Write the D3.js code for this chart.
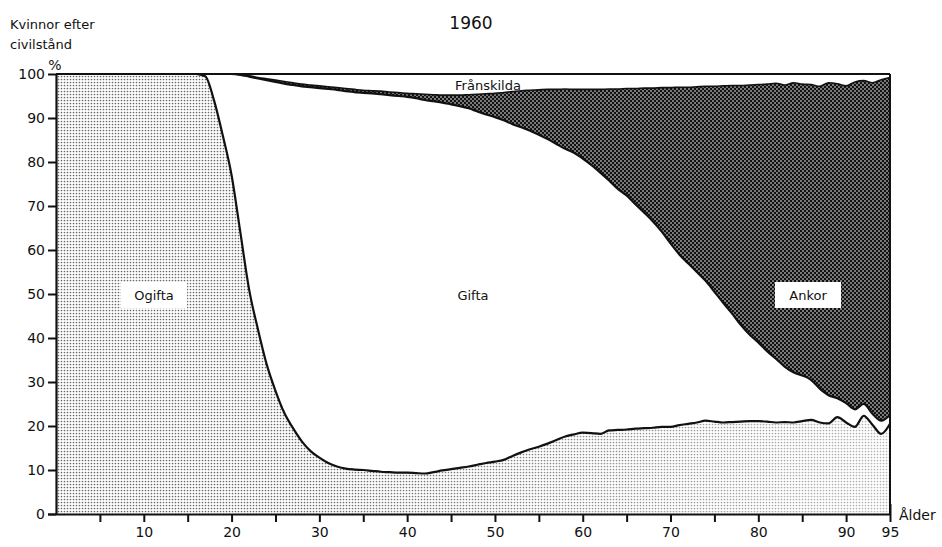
<!DOCTYPE html>
<html>
<head>
<meta charset="utf-8">
<script src="https://cdn.jsdelivr.net/npm/d3@7"></script>
<style>
  body { margin: 0; background: #fff; }
  svg text { font-family: "DejaVu Sans", sans-serif; fill: #111; }
</style>
</head>
<body>
<svg id="chart" width="942" height="547"></svg>
<script>
// ages 0..95, shares of women by civil status (% , cumulative from the bottom)
const ages = [
  0,1,2,3,4,5,6,7,8,9,10,11,12,13,14,15,16,17,18,19,
  20,21,22,23,24,25,26,27,28,29,30,31,32,33,34,35,36,37,38,39,
  40,41,42,43,44,45,46,47,48,49,50,51,52,53,54,55,56,57,58,59,
  60,61,62,63,64,65,66,67,68,69,70,71,72,73,74,75,76,77,78,79,
  80,81,82,83,84,85,86,87,88,89,90,91,92,93,94,95
];
// Ogifta (unmarried)
const ogifta = [
  100,100,100,100,100,100,100,100,100,100,
  100,100,100,100,100,100,100,99.5,94,86,
  77,64,51,42,34,28,23,19.5,16.5,14.3,
  12.8,11.6,10.8,10.3,10.1,10,9.8,9.6,9.5,9.4,
  9.4,9.3,9.2,9.5,9.9,10.2,10.5,10.8,11.2,11.6,
  11.9,12.3,13.2,14,14.7,15.3,16,16.8,17.6,18.1,
  18.5,18.4,18.2,19,19.1,19.2,19.4,19.5,19.6,19.8,
  19.8,20.2,20.5,20.8,21.2,21,20.8,20.9,21,21.1,
  21.1,21,20.8,20.9,20.8,21.1,21.4,20.8,20.6,22,
  20.8,19.8,22.3,20.3,18.2,20.5
];
// Ogifta + Gifta
const giftaCum = [
  100,100,100,100,100,100,100,100,100,100,
  100,100,100,100,100,100,100,100,100,100,
  100,99.8,99.4,99,98.6,98.2,97.8,97.5,97.2,97,
  96.8,96.6,96.4,96.1,95.9,95.7,95.6,95.4,95.2,95,
  94.8,94.5,94.1,93.8,93.5,93.1,92.7,92.2,91.5,90.8,
  90.2,89.5,88.6,87.9,87.1,86.2,85.2,84.1,83,82.1,
  80.8,79.3,77.6,75.8,73.9,72.4,70.4,68.5,66.5,64.2,
  61.5,59,57,55,53,50.5,48,45.6,43,40.8,
  39,37,35.3,33.5,32.2,31.5,30.5,28.5,27,26.3,
  25.2,23.8,25,22.8,21.2,22.5
];
// Ogifta + Gifta + Änkor (rest up to 100 = Frånskilda)
const ankorCum = [
  100,100,100,100,100,100,100,100,100,100,
  100,100,100,100,100,100,100,100,100,100,
  100,99.9,99.6,99.2,98.9,98.6,98.3,98,97.7,97.5,
  97.3,97.1,96.9,96.7,96.5,96.3,96.2,96.1,95.9,95.8,
  95.6,95.5,95.4,95.3,95.2,95.2,95.2,95.3,95.4,95.5,
  95.6,95.8,96,96.2,96.3,96.4,96.5,96.5,96.6,96.5,
  96.5,96.5,96.5,96.6,96.6,96.7,96.7,96.8,96.8,96.9,
  96.9,97,97,97.1,97.2,97.2,97.3,97.4,97.4,97.5,
  97.6,97.7,97.9,97.5,98,97.7,97.6,97.2,98,97.8,
  97.3,98.2,98.5,98,98.7,99.2
];
const xTicks = [5,10,15,20,25,30,35,40,45,50,55,60,65,70,75,80,85,90,95];
const yTicks = [0,10,20,30,40,50,60,70,80,90,100];

const svg = d3.select("#chart");
const x = d3.scaleLinear().domain([0, 95]).range([56, 890]);
const y = d3.scaleLinear().domain([0, 100]).range([514, 74]);

const rows = ages.map((a, i) => ({ age: a, o: ogifta[i], g: giftaCum[i], a2: ankorCum[i] }));

// patterns
const defs = svg.append("defs");
const dots = defs.append("pattern").attr("id", "dots")
    .attr("width", 3).attr("height", 3).attr("patternUnits", "userSpaceOnUse");
dots.append("rect").attr("width", 3).attr("height", 3).attr("fill", "#fff");
dots.append("circle").attr("cx", 1.5).attr("cy", 1.5).attr("r", 0.85).attr("fill", "#6a6a6a");

const hatch = defs.append("pattern").attr("id", "hatch")
    .attr("width", 4).attr("height", 4).attr("patternUnits", "userSpaceOnUse");
hatch.append("rect").attr("width", 4).attr("height", 4).attr("fill", "#111");
hatch.append("circle").attr("cx", 1).attr("cy", 1).attr("r", 0.8).attr("fill", "#fff");
hatch.append("circle").attr("cx", 3).attr("cy", 3).attr("r", 0.8).attr("fill", "#fff");

const fade = defs.append("linearGradient").attr("id", "fade")
    .attr("gradientUnits", "userSpaceOnUse")
    .attr("x1", 300).attr("x2", 890).attr("y1", 0).attr("y2", 0);
fade.append("stop").attr("offset", "0").attr("stop-color", "#fff").attr("stop-opacity", 0);
fade.append("stop").attr("offset", "1").attr("stop-color", "#fff").attr("stop-opacity", 0.5);

const curve = d3.curveMonotoneX;
const band = (lo, hi) => d3.area().curve(curve)
    .x(d => x(d.age)).y0(d => y(lo(d))).y1(d => y(hi(d)));

// Ogifta
svg.append("path").datum(rows).attr("d", band(d => 0, d => d.o)).attr("fill", "url(#dots)");
svg.append("path").datum(rows).attr("d", band(d => 0, d => d.o)).attr("fill", "url(#fade)");
// Gifta
svg.append("path").datum(rows).attr("d", band(d => d.o, d => d.g)).attr("fill", "#fff");
// Änkor
svg.append("path").datum(rows).attr("d", band(d => d.g, d => d.a2)).attr("fill", "url(#hatch)");
// Frånskilda
svg.append("path").datum(rows).attr("d", band(d => d.a2, d => 100)).attr("fill", "#fff");

// boundary lines
const line = key => d3.line().curve(curve).x(d => x(d.age)).y(d => y(d[key]));
svg.append("path").datum(rows.filter(d => d.age >= 20)).attr("d", line("a2"))
    .attr("fill", "none").attr("stroke", "#111").attr("stroke-width", 1.6);
svg.append("path").datum(rows.filter(d => d.age >= 19)).attr("d", line("g"))
    .attr("fill", "none").attr("stroke", "#111").attr("stroke-width", 2.2);
svg.append("path").datum(rows.filter(d => d.age >= 16)).attr("d", line("o"))
    .attr("fill", "none").attr("stroke", "#111").attr("stroke-width", 2.2);

// frame: top 100% line and right edge
svg.append("line").attr("x1", x(0)).attr("x2", x(95)).attr("y1", y(100)).attr("y2", y(100))
    .attr("stroke", "#111").attr("stroke-width", 2);
svg.append("line").attr("x1", x(95)).attr("x2", x(95)).attr("y1", y(100)).attr("y2", y(0))
    .attr("stroke", "#111").attr("stroke-width", 2);

// axes
const yAxis = svg.append("g").attr("transform", `translate(${x(0)},0)`)
    .call(d3.axisLeft(y).tickValues(yTicks).tickSize(8).tickPadding(3).tickSizeOuter(0));
const xAxis = svg.append("g").attr("transform", `translate(0,${y(0)})`)
    .call(d3.axisBottom(x).tickValues(xTicks).tickSize(8).tickPadding(5).tickSizeOuter(0)
        .tickFormat(d => (d % 10 === 0 || d === 95) ? d : ""));
[yAxis, xAxis].forEach(g => {
    g.select(".domain").attr("stroke", "#111").attr("stroke-width", 2.2);
    g.selectAll(".tick line").attr("stroke", "#111").attr("stroke-width", 2);
    g.selectAll(".tick text").attr("font-size", 14).attr("fill", "#111")
        .attr("font-family", "DejaVu Sans, sans-serif");
});
xAxis.select(".domain").attr("d", `M48,0.5H${x(95)}`);
xAxis.selectAll(".tick line").filter(d => d === 95).attr("y1", -10);

// texts
svg.append("text").attr("x", 471).attr("y", 29).attr("text-anchor", "middle")
    .attr("font-size", 17).text("1960");
svg.append("text").attr("x", 10).attr("y", 29).attr("font-size", 13).text("Kvinnor efter");
svg.append("text").attr("x", 10).attr("y", 49).attr("font-size", 13).text("civilstånd");
svg.append("text").attr("x", 55).attr("y", 70).attr("text-anchor", "middle")
    .attr("font-size", 14).text("%");
svg.append("text").attr("x", 899).attr("y", 520).attr("font-size", 14).text("Ålder");

const label = (txt, cx, cy, boxed) => {
    if (boxed) {
        svg.append("rect").attr("x", cx - 33).attr("y", cy - 13).attr("width", 66).attr("height", 26)
            .attr("fill", "#fff");
    }
    svg.append("text").attr("x", cx).attr("y", cy + 5).attr("text-anchor", "middle")
        .attr("font-size", 13).text(txt);
};
label("Ogifta", 154, 295, true);
label("Gifta", 473, 295, false);
label("Ankor", 808, 295, true);
label("Frånskilda", 488, 85, false);
</script>
</body>
</html>
